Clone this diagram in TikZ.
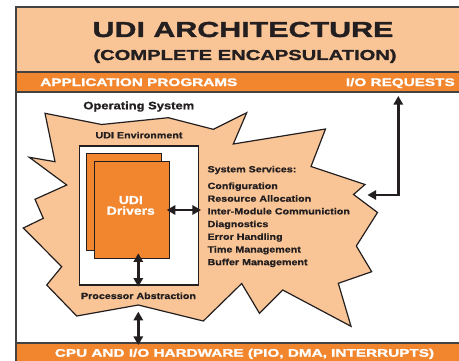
\documentclass[tikz,border=0pt]{standalone}
\usepackage{fontspec}
\usetikzlibrary{arrows.meta}
\newfontfamily\capsfont{Liberation Sans}[FakeStretch=1.4,FakeBold=1.6]
\newfontfamily\labelfont{Liberation Sans}[FakeStretch=1.2,FakeBold=1]
\definecolor{peach}{HTML}{FAC596}
\definecolor{udiorange}{HTML}{F2862E}
\definecolor{ink}{HTML}{231F20}
\tikzset{
  frame/.style={draw=ink!85, line width=0.8pt},
  bandtext/.style={text=white, font=\capsfont\bfseries\fontsize{8.2}{9}\selectfont, inner sep=0pt},
  smalltext/.style={text=ink, font=\labelfont\bfseries\fontsize{6.7}{8}\selectfont, inner sep=0pt},
  drvbox/.style={draw=ink, line width=0.8pt, fill=udiorange, minimum width=56pt, minimum height=72.8pt, inner sep=0pt},
  bigarrow/.style={draw=ink, line width=2.2pt, {Triangle[length=6.5pt,width=7pt]}-{Triangle[length=6.5pt,width=7pt]}},
}
\begin{document}
\begin{tikzpicture}[x=0.75pt,y=-0.75pt]
\useasboundingbox (0,0) rectangle (459,360);
\clip (0,0) rectangle (459,360);
\fill[white] (0,0) rectangle (459,360);

% frame: title header, application band, side rule, hardware band
\draw[frame, fill=peach] (16,7) rectangle (480,72);
\draw[frame, fill=udiorange] (16,72) rectangle (480,92);
\draw[frame] (16,92) -- (16,343);
\draw[frame, fill=udiorange] (16,343) rectangle (480,380);

\node[anchor=base, text=ink, inner sep=0pt, font=\capsfont\bfseries\fontsize{16.3}{18}\selectfont] (title) at (243,37) {UDI ARCHITECTURE};
\node[anchor=base, text=ink, inner sep=0pt, font=\capsfont\bfseries\fontsize{10.8}{12}\selectfont] (subtitle) at (245,60) {(COMPLETE ENCAPSULATION)};

\node[bandtext, anchor=base west] (apps) at (40,86) {APPLICATION PROGRAMS};
\node[bandtext, anchor=base east] (ioreq) at (455,86) {I/O REQUESTS};
\node[bandtext, anchor=base] (hw) at (244.5,356.7) {CPU AND I/O HARDWARE (PIO, DMA, INTERRUPTS)};

% operating system starburst
\draw[draw=ink, line width=0.9pt, fill=peach, line join=miter]
  (45,113.3) -- (101.7,124.5) -- (168.3,117.7) -- (213.3,129.3) -- (246.7,112.7)
  -- (233.3,144) -- (325.5,129) -- (311,166.5) -- (365,184.5) -- (353.5,194.5)
  -- (377.5,212.5) -- (356.3,246) -- (371.7,271.7) -- (338.3,283.3) -- (351,326.3)
  -- (282.7,290) -- (259.5,313.3) -- (241.7,283.5) -- (203.3,321) -- (138.3,305)
  -- (76.7,316) -- (46.7,285) -- (61.7,266.7) -- (23.3,228) -- (43.3,218.3)
  -- (35,199.3) -- (66.7,185) -- (29.3,157.3) -- (55,161.7) -- cycle;

\node[anchor=base, text=ink, inner sep=0pt, font=\labelfont\bfseries\fontsize{8.1}{9}\selectfont] (os) at (138.8,109.3) {Operating System};
\node[smalltext, anchor=base] (envlabel) at (139,138.3) {UDI Environment};

% UDI environment box with the driver stack
\node[draw=ink, line width=0.9pt, fill=white, minimum width=89.25pt, minimum height=104.25pt, inner sep=0pt] (env) at (138.8,215.5) {};
\node[drvbox] (drvback) at (124.2,201.7) {};
\node[drvbox] (drvfront) at (131.7,209.7) {};
\node[anchor=base, text=white, inner sep=0pt, font=\labelfont\bfseries\fontsize{8.7}{8}\selectfont] (udi) at (130.8,204) {UDI};
\node[anchor=base, text=white, inner sep=0pt, font=\labelfont\bfseries\fontsize{8.7}{8}\selectfont] (drivers) at (130.8,214.7) {Drivers};

\node[smalltext, anchor=base] (procabs) at (138.5,299) {Processor Abstraction};

% system services list
\node[smalltext, anchor=base west] (svchead) at (207.3,172.3) {System Services:};
\foreach \y/\t [count=\i] in {189/Configuration, 201.7/Resource Allocation, 214.4/Inter-Module Communiction, 227.1/Diagnostics, 239.8/Error Handling, 252.5/Time Management, 265.2/Buffer Management}
  \node[smalltext, anchor=base west] (svc\i) at (207.3,\y) {\t};

% connectors
\coordinate (drvR) at (166.7,210);
\coordinate (svcL) at (201,210);
\coordinate (drvB) at (138.3,253.3);
\coordinate (envB) at (138.3,286.7);
\coordinate (osB) at (138.3,311.7);
\coordinate (hwT) at (138.3,345);
\coordinate (ioT) at (398.3,96);
\coordinate (osR) at (367.5,195);

\draw[bigarrow] (drvR) -- (svcL);
\draw[bigarrow] (drvB) -- (envB);
\draw[bigarrow] (osB) -- (hwT);
\draw[bigarrow, line join=miter] (ioT) |- (osR);
\end{tikzpicture}
\end{document}
